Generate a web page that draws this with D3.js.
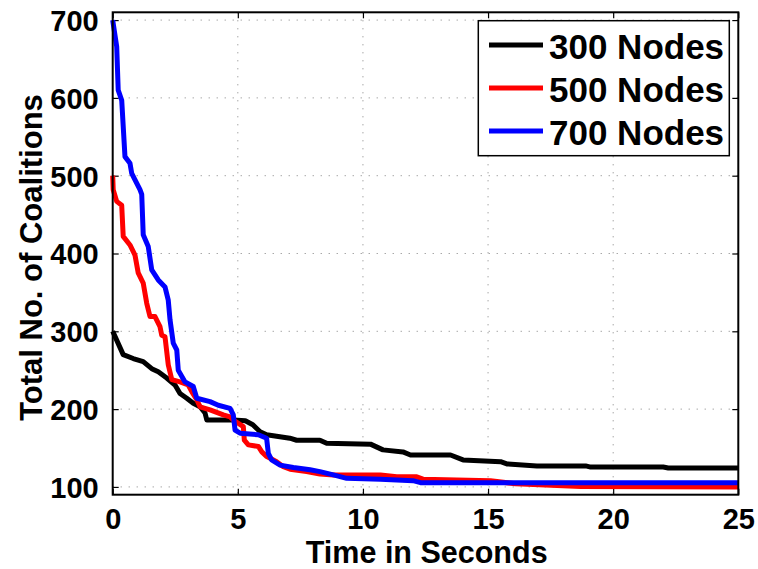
<!DOCTYPE html>
<html>
<head>
<meta charset="utf-8">
<script src="https://cdn.jsdelivr.net/npm/d3@7"></script>
<style>
  html, body { margin: 0; padding: 0; background: #fff; }
  svg { display: block; font-family: "Liberation Sans", Arial, Helvetica, sans-serif; font-weight: bold; }
</style>
</head>
<body>
<svg id="chart" width="758" height="569"></svg>
<script>
// ---- data ----
const seriesNames = ["300 Nodes", "500 Nodes", "700 Nodes"];
const seriesColors = ["#000000", "#ff0000", "#0000ff"];

const time300 = [0, 0.42, 0.82, 1.22, 1.56, 1.82, 2.16, 2.49, 2.69, 2.96, 3.22, 3.49, 3.69, 3.76, 4.82, 5.3, 5.6, 5.89, 6.15, 7.08, 7.35, 8.28, 8.55, 10.3, 10.8, 11.6, 11.9, 13.5, 14.0, 15.5, 15.75, 16.95, 18.9, 19.1, 22.0, 22.2, 25];
const value300 = [300, 270, 265, 261, 252, 248, 240, 231, 220, 214, 207.5, 203, 195, 186, 186, 185, 180, 171, 167, 162.6, 160, 160, 156, 155, 147.6, 145, 141, 141, 134.7, 132.5, 129.6, 127, 127, 125.5, 125.5, 124.4, 124.4];

const time500 = [0, 0.02, 0.16, 0.36, 0.42, 0.69, 0.89, 1.02, 1.22, 1.36, 1.49, 1.69, 1.89, 1.96, 2.09, 2.22, 2.36, 2.69, 3.02, 3.16, 3.36, 3.49, 3.89, 4.42, 4.69, 4.82, 5.22, 5.26, 5.42, 5.82, 5.96, 6.15, 6.29, 6.55, 6.82, 7.09, 7.75, 8.28, 8.82, 10.7, 11.35, 12.15, 12.4, 15.1, 16.1, 18.7, 25];
const value500 = [500, 482, 467, 462, 422, 411, 398, 375, 362, 336, 319, 319, 306, 295, 293, 257, 238, 235, 231, 222.5, 212, 203, 199, 192.5, 190, 186, 177.5, 160, 154, 152, 145, 139, 137, 132.5, 126, 122.7, 119.7, 116.7, 115.4, 115.4, 113, 113, 110, 108, 104, 100.5, 100];

const time700 = [0, 0.16, 0.22, 0.36, 0.49, 0.69, 0.76, 1.09, 1.16, 1.22, 1.42, 1.56, 1.82, 2.09, 2.22, 2.29, 2.42, 2.56, 2.62, 2.89, 3.22, 3.36, 3.89, 4.22, 4.69, 4.82, 4.89, 5.09, 5.82, 6.15, 6.22, 6.35, 6.69, 7.22, 7.89, 8.28, 8.82, 9.35, 10.7, 12.0, 12.3, 25];
const value700 = [700, 666, 610, 597, 524.5, 516, 503, 482, 476, 424, 409, 379, 366, 357, 340, 315, 284.7, 276, 250, 235, 229, 214, 209.6, 205, 201, 192.5, 173, 169, 167, 162.6, 143, 134.7, 128, 125, 122, 119.7, 115.4, 111, 110, 108, 105.5, 105.5];

const xTicks = [0, 5, 10, 15, 20, 25];
const yTicks = [100, 200, 300, 400, 500, 600, 700];
const xLabel = "Time in Seconds";
const yLabel = "Total No. of Coalitions";

// ---- layout ----
const svg = d3.select("#chart");
const L = 112.7, R = 738.3, T = 12.3, B = 494.7;
const x = d3.scaleLinear().domain([0, 25]).range([L, R]);
const y = d3.scaleLinear().domain([90, 710]).range([B, T]);

// grid
const grid = svg.append("g").attr("stroke", "#808080").attr("stroke-width", 1).attr("stroke-dasharray", "1,7");
grid.selectAll("line.gx").data(xTicks.slice(1, -1)).join("line")
  .attr("x1", d => x(d)).attr("x2", d => x(d)).attr("y1", T).attr("y2", B);
grid.selectAll("line.gy").data(yTicks).join("line")
  .attr("x1", L).attr("x2", R).attr("y1", d => y(d)).attr("y2", d => y(d));

// axes (ticks inward)
const tickLen = 6;
const xAxisB = svg.append("g").attr("transform", `translate(0,${B})`)
  .call(d3.axisBottom(x).tickValues(xTicks).tickSize(-tickLen).tickPadding(14).tickFormat(d3.format("d")));
const xAxisT = svg.append("g").attr("transform", `translate(0,${T})`)
  .call(d3.axisTop(x).tickValues(xTicks).tickSize(-tickLen).tickFormat(""));
const yAxisL = svg.append("g").attr("transform", `translate(${L},0)`)
  .call(d3.axisLeft(y).tickValues(yTicks).tickSize(-tickLen).tickPadding(14).tickFormat(d3.format("d")));
const yAxisR = svg.append("g").attr("transform", `translate(${R},0)`)
  .call(d3.axisRight(y).tickValues(yTicks).tickSize(-tickLen).tickFormat(""));
[xAxisB, xAxisT, yAxisL, yAxisR].forEach(g => {
  g.select(".domain").remove();
  g.selectAll(".tick line").attr("stroke", "#000").attr("stroke-width", 1.2);
});
xAxisB.selectAll(".tick text").attr("font-size", 29).attr("font-family", "Liberation Sans, Arial, sans-serif")
  .attr("font-weight", "bold").attr("fill", "#000").attr("dy", null).attr("y", 34.5);
yAxisL.selectAll(".tick text").attr("font-size", 29).attr("font-family", "Liberation Sans, Arial, sans-serif")
  .attr("font-weight", "bold").attr("fill", "#000").attr("dy", "0.36em").attr("x", -14);

// lines
const series = [
  { name: seriesNames[0], color: seriesColors[0], pts: time300.map((t, i) => [t, value300[i]]) },
  { name: seriesNames[1], color: seriesColors[1], pts: time500.map((t, i) => [t, value500[i]]) },
  { name: seriesNames[2], color: seriesColors[2], pts: time700.map((t, i) => [t, value700[i]]) }
];
const line = d3.line().x(d => x(d[0])).y(d => y(d[1]));
svg.append("g").selectAll("path").data(series).join("path")
  .attr("d", d => line(d.pts)).attr("fill", "none")
  .attr("stroke", d => d.color).attr("stroke-width", 5)
  .attr("stroke-linejoin", "round").attr("stroke-linecap", "butt");

// box
svg.append("rect").attr("x", L).attr("y", T).attr("width", R - L).attr("height", B - T)
  .attr("fill", "none").attr("stroke", "#000").attr("stroke-width", 2);

// axis labels
svg.append("text").attr("x", 426.7).attr("y", 563).attr("text-anchor", "middle")
  .attr("font-size", 30.5).text(xLabel);
svg.append("text").attr("transform", "translate(42,257.5) rotate(-90)").attr("text-anchor", "middle")
  .attr("font-size", 31).text(yLabel);

// legend
const lg = svg.append("g");
lg.append("rect").attr("x", 478.3).attr("y", 20.7).attr("width", 251).attr("height", 135)
  .attr("fill", "#fff").attr("stroke", "#000").attr("stroke-width", 1.5);
const rows = lg.selectAll("g.row").data(series).join("g").attr("class", "row")
  .attr("transform", (d, i) => `translate(0,${45 + i * 43})`);
rows.append("line").attr("x1", 489).attr("x2", 543).attr("y1", 0).attr("y2", 0)
  .attr("stroke", d => d.color).attr("stroke-width", 5);
rows.append("text").attr("x", 549).attr("y", 13.5).attr("font-size", 35).text(d => d.name);
</script>
</body>
</html>
